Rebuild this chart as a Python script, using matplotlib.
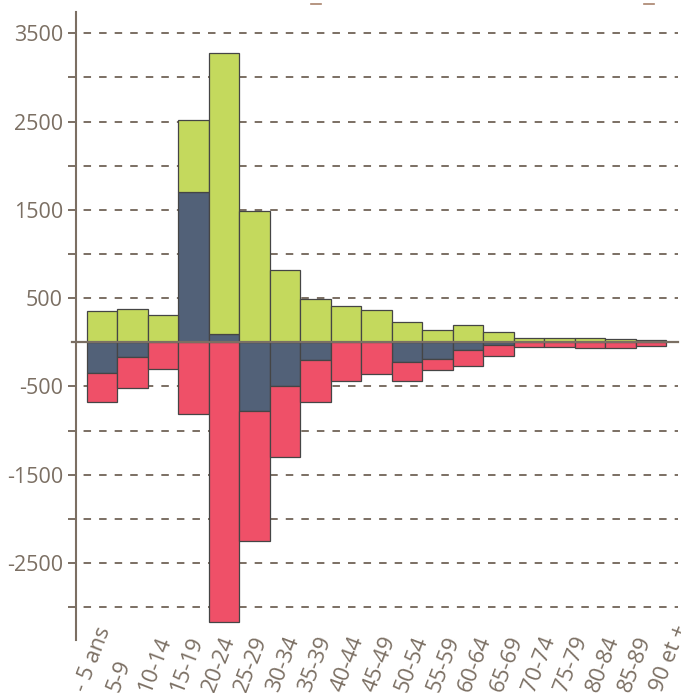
import matplotlib
matplotlib.use("Agg")
import matplotlib.pyplot as plt
import matplotlib.transforms as mtransforms
from matplotlib.lines import Line2D
import numpy as np

plt.rcParams['font.family'] = ['Open Sans', 'DejaVu Sans']
plt.rcParams['lines.scale_dashes'] = False

categories = ['- 5 ans', '5-9', '10-14', '15-19', '20-24', '25-29', '30-34', '35-39',
              '40-44', '45-49', '50-54', '55-59', '60-64', '65-69', '70-74', '75-79',
              '80-84', '85-89', '90 et +']
# stacked series (positive values stack upward, negative downward), in stacking order
solde = [-345, -170, 0, 1700, 100, -780, -495, -195, 0, 0, -218, -188, -90, -30, 0, 0, 0, 0, 0]
entrees = [354, 372, 310, 820, 3182, 1482, 815, 494, 416, 366, 234, 139, 192, 122, 52, 52, 45, 42, 24]
sorties = [-335, -351, -302, -808, -3171, -1467, -804, -481, -435, -360, -217, -126, -175, -125, -57, -50, -68, -64, -47]
yticks = [-2500, -1500, -500, 500, 1500, 2500, 3500]

C_SOLDE = '#526178'
C_ENT = '#c4d95d'
C_SORT = '#ef5068'
AXC = '#7b6f63'
EDGE = '#454545'

W, H = 681, 693
fig = plt.figure(figsize=(W / 100, H / 100), dpi=100)
left_px, right_px, top_px, bot_px = 75.5, 678, 12, 640
ax = fig.add_axes([left_px / W, (H - bot_px) / H, (right_px - left_px) / W, (bot_px - top_px) / H])
ax.set_xlim(-0.877, 18.894)
ax.set_ylim(-3371, 3741)

x = np.arange(len(categories))
pos_base = np.zeros(len(categories))
neg_base = np.zeros(len(categories))
for vals, col in [(solde, C_SOLDE), (entrees, C_ENT), (sorties, C_SORT)]:
    vals = np.array(vals, dtype=float)
    bottoms = np.where(vals >= 0, pos_base, neg_base)
    ax.bar(x, vals, bottom=bottoms, width=1.0, color=col, edgecolor=EDGE,
           linewidth=0.9, zorder=3)
    pos_base = pos_base + np.where(vals > 0, vals, 0)
    neg_base = neg_base + np.where(vals < 0, vals, 0)

# dashed gridlines
trans_grid = mtransforms.blended_transform_factory(ax.transAxes, ax.transData)
for v in range(-3000, 3501, 500):
    if v == 0:
        continue
    ax.add_line(Line2D([-0.0125, 1.0], [v, v], transform=trans_grid, color=AXC,
                       lw=1.4, linestyle=(0, (5.4, 5.8)), clip_on=False, zorder=1))
# zero line
ax.add_line(Line2D([-0.005, 1.0], [0, 0], transform=trans_grid, color=AXC,
                   lw=1.6, clip_on=False, zorder=5))

for s in ['top', 'right', 'bottom']:
    ax.spines[s].set_visible(False)
ax.spines['left'].set_color(AXC)
ax.spines['left'].set_linewidth(1.5)
ax.spines['left'].set_zorder(6)

ax.set_yticks(yticks)
ax.set_yticklabels([str(t) for t in yticks])
ax.tick_params(axis='y', length=0, pad=9, labelsize=15.5, labelcolor=AXC)
ax.set_xticks([])

# rotated category labels: the label row is spread slightly wider than the bars
# (start of each label, in pixels from the left edge, bottom of the image)
lab_x0_px, lab_step_px, lab_y_px = 81, 32, 691
for i, lab in enumerate(categories):
    px = lab_x0_px + lab_step_px * i
    fig.text(px / W, (H - lab_y_px) / H, lab, rotation=69,
             ha='left', va='center', rotation_mode='anchor', fontsize=16,
             color=AXC)

# small marks at the very top (cut-off legend symbols)
for xa, xb in [(311, 321), (644, 654)]:
    fig.add_artist(Line2D([xa / W, xb / W], [1 - 4.3 / H] * 2, color='#a9836c', lw=1.2))

fig.savefig('out.png', dpi=100)
